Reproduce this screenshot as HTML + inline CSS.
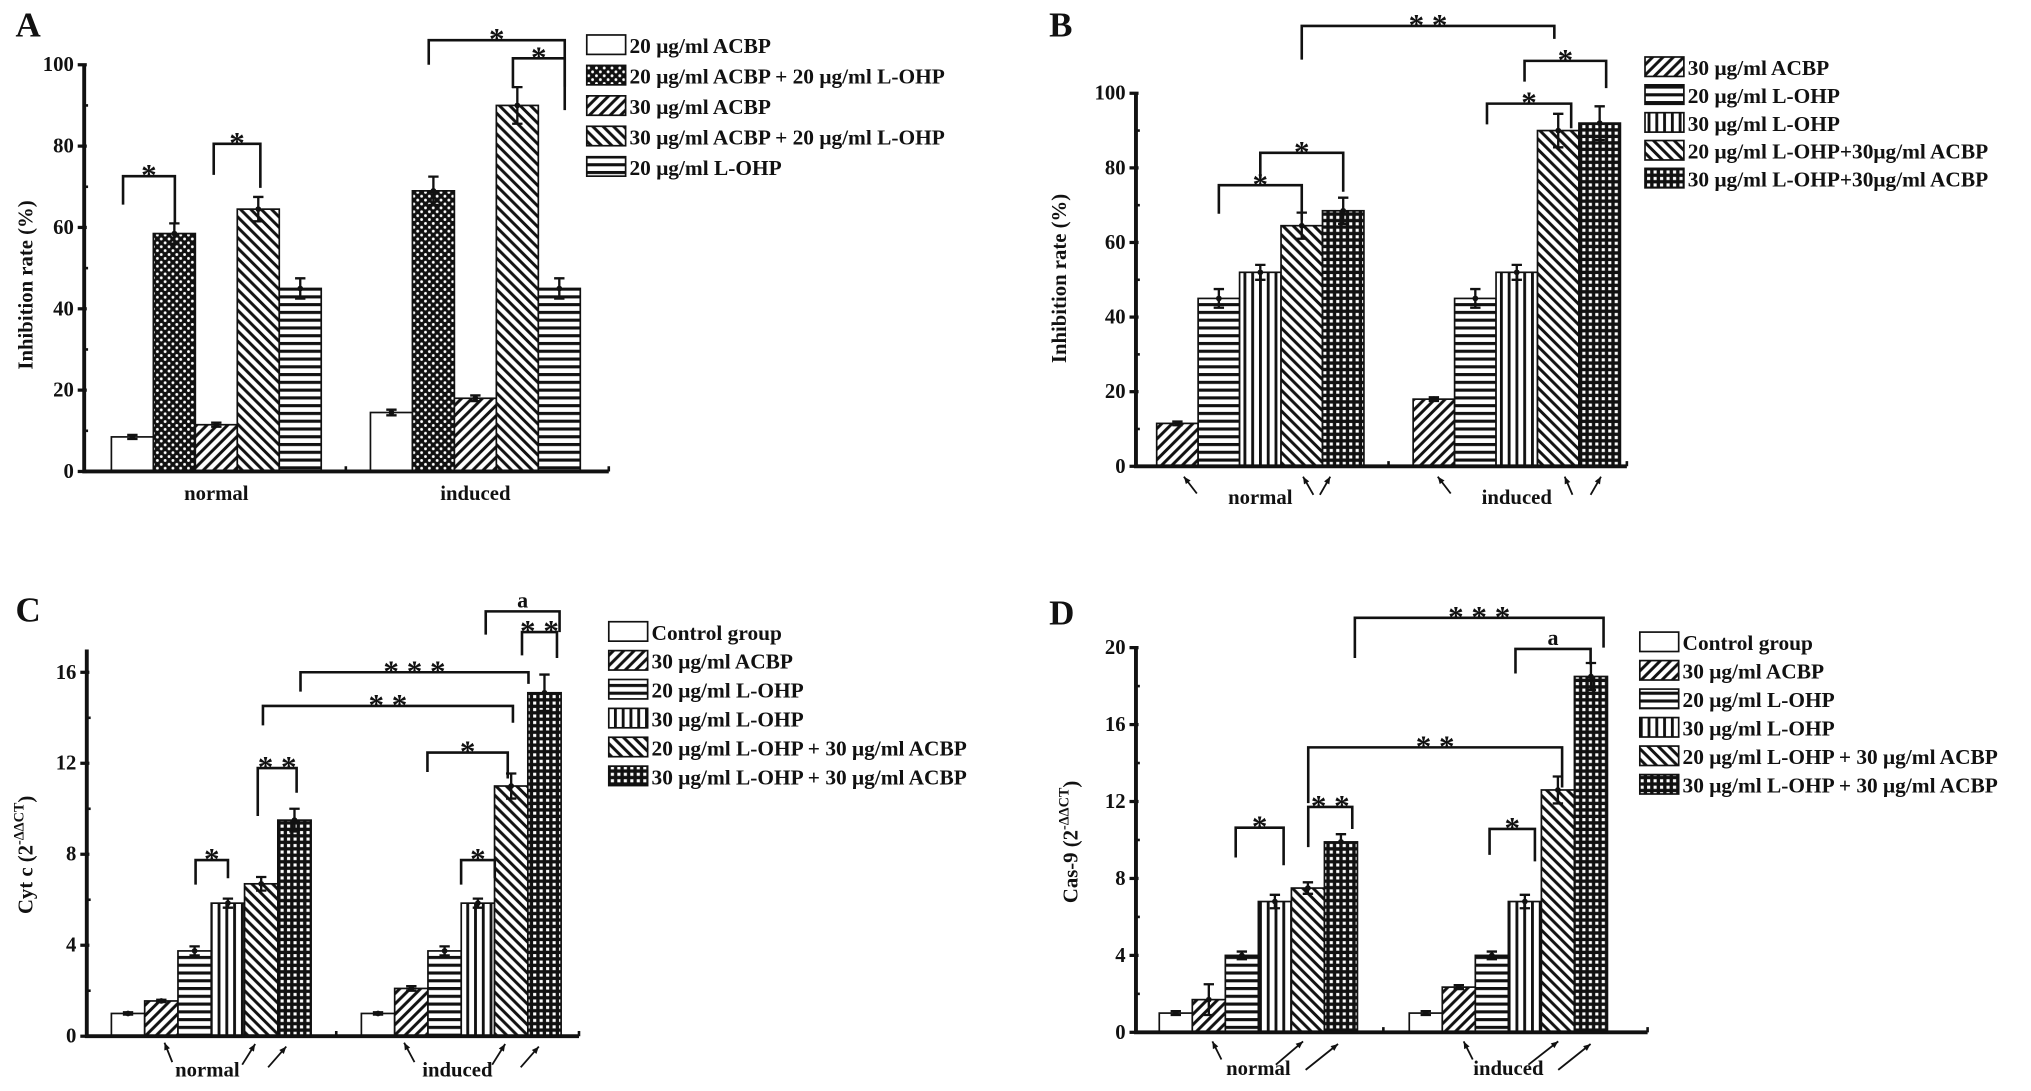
<!DOCTYPE html>
<html><head><meta charset="utf-8"><style>
html,body{margin:0;padding:0;background:#fff;}
svg{display:block;}
text{font-family:"Liberation Serif",serif;font-weight:bold;fill:#111;}
</style></head><body>
<svg id="fig" width="2031" height="1091" viewBox="0 0 1568 842.3" preserveAspectRatio="none" xmlns="http://www.w3.org/2000/svg">
<defs>
<pattern id="p-white" patternUnits="userSpaceOnUse" width="6" height="6"><rect width="6" height="6" fill="#fff"/></pattern>
<pattern id="p-fwd" patternUnits="userSpaceOnUse" width="8" height="8"><rect width="8" height="8" fill="#fff"/><path d="M-2,10 L10,-2 M-2,2 L2,-2 M6,10 L10,6" stroke="#111" stroke-width="2.3"/></pattern>
<pattern id="p-back" patternUnits="userSpaceOnUse" width="8" height="8"><rect width="8" height="8" fill="#fff"/><path d="M-2,-2 L10,10 M6,-2 L10,2 M-2,6 L2,10" stroke="#111" stroke-width="2.3"/></pattern>
<pattern id="p-horiz" patternUnits="userSpaceOnUse" width="6" height="6"><rect width="6" height="6" fill="#fff"/><rect y="0" width="6" height="2.4" fill="#111"/></pattern>
<pattern id="p-vert" patternUnits="userSpaceOnUse" width="6" height="6"><rect width="6" height="6" fill="#fff"/><rect x="0" width="2.2" height="6" fill="#111"/></pattern>
<pattern id="p-grid" patternUnits="userSpaceOnUse" width="5" height="5"><rect width="5" height="5" fill="#111"/><rect x="1.6" y="1.6" width="2.4" height="2.4" fill="#fff"/></pattern>
<pattern id="p-dots" patternUnits="userSpaceOnUse" width="6" height="6"><rect width="6" height="6" fill="#111"/><circle cx="1.5" cy="1.5" r="1.1" fill="#fff"/><circle cx="4.5" cy="4.5" r="1.1" fill="#fff"/></pattern>
</defs>
</svg>
<script>
// ---- Panel A data ----
const catsA = ["normal","induced"];
const seriesA = ["20 μg/ml ACBP","20 μg/ml ACBP + 20 μg/ml L-OHP","30 μg/ml ACBP","30 μg/ml ACBP + 20 μg/ml L-OHP","20 μg/ml L-OHP"];
const normalA = [8.5,58.5,11.5,64.5,45];
const inducedA = [14.5,69,18,90,45];
const errNormalA = [0.5,2.5,0.5,3,2.5];
const errInducedA = [0.7,3.5,0.7,4.5,2.5];
const ticksA = [0,20,40,60,80,100];
// ---- Panel B data ----
const catsB = ["normal","induced"];
const seriesB = ["30 μg/ml ACBP","20 μg/ml L-OHP","30 μg/ml L-OHP","20 μg/ml L-OHP+30μg/ml ACBP","30 μg/ml L-OHP+30μg/ml ACBP"];
const normalB = [11.5,45,52,64.5,68.5];
const inducedB = [18,45,52,90,92];
const errNormalB = [0.5,2.5,2,3.5,3.5];
const errInducedB = [0.5,2.5,2,4.5,4.5];
const ticksB = [0,20,40,60,80,100];
// ---- Panel C data ----
const catsC = ["normal","induced"];
const seriesC = ["Control group","30 μg/ml ACBP","20 μg/ml L-OHP","30 μg/ml L-OHP","20 μg/ml L-OHP + 30 μg/ml ACBP","30 μg/ml L-OHP + 30 μg/ml ACBP"];
const normalC = [1.0,1.55,3.75,5.85,6.7,9.5];
const inducedC = [1.0,2.1,3.75,5.85,11.0,15.1];
const errNormalC = [0.05,0.05,0.2,0.2,0.3,0.5];
const errInducedC = [0.05,0.1,0.2,0.2,0.55,0.8];
const ticksC = [0,4,8,12,16];
// ---- Panel D data ----
const catsD = ["normal","induced"];
const seriesD = ["Control group","30 μg/ml ACBP","20 μg/ml L-OHP","30 μg/ml L-OHP","20 μg/ml L-OHP + 30 μg/ml ACBP","30 μg/ml L-OHP + 30 μg/ml ACBP"];
const normalD = [1.0,1.7,4.0,6.8,7.5,9.9];
const inducedD = [1.0,2.35,4.0,6.8,12.6,18.5];
const errNormalD = [0.1,0.8,0.2,0.35,0.3,0.4];
const errInducedD = [0.1,0.1,0.2,0.35,0.7,0.7];
const ticksD = [0,4,8,12,16,20];

const NS="http://www.w3.org/2000/svg";
const svg=document.getElementById('fig');
function mk(tag,attrs,parent){const e=document.createElementNS(NS,tag);for(const k in attrs)e.setAttribute(k,attrs[k]);(parent||svg).appendChild(e);return e;}

function panel(cfg){
  const g=mk('g',{});
  
  
  const y=v=>cfg.y0-v*cfg.ppu;
  const lab=mk('text',{x:cfg.letterX,y:cfg.letterY,'font-size':27},g);lab.textContent=cfg.id;
  
  
  cfg.groups.forEach((vals,gi)=>{
    vals.forEach((v,i)=>{
      const x=cfg.starts[gi]+i*cfg.bw;
      const r=mk('rect',{x:x,y:y(v),width:cfg.bw,height:v*cfg.ppu,fill:'url(#'+cfg.pats[i]+')',stroke:'#111','stroke-width':1.3},g);
      
      
      const cx=x+cfg.bw/2,e=cfg.errs[gi][i];
      const eb=mk('path',{d:`M${cx},${y(v-e)}L${cx},${y(v+e)}M${cx-4},${y(v+e)}L${cx+4},${y(v+e)}M${cx-4},${y(v-e)}L${cx+4},${y(v-e)}`,stroke:'#111','stroke-width':1.8,fill:'none'},g);
      
      
      mk('circle',{cx:cx,cy:y(v),r:2.2,fill:'#111'},g);
    });
  });
  const ax=mk('path',{d:`M${cfg.axisX},${y(cfg.yMax)}L${cfg.axisX},${cfg.y0}L${cfg.axisEnd},${cfg.y0}`,stroke:'#111','stroke-width':3,fill:'none'},g);
  
  
  const midX=(cfg.starts[0]+cfg.groups[0].length*cfg.bw+cfg.starts[1])/2;
  mk('path',{d:`M${midX},${cfg.y0}L${midX},${cfg.y0-4}M${cfg.axisEnd},${cfg.y0}L${cfg.axisEnd},${cfg.y0-4}`,stroke:'#111','stroke-width':2},g);
  cfg.ticks.forEach((t,i)=>{
    mk('line',{x1:cfg.axisX-5,x2:cfg.axisX+2,y1:y(t),y2:y(t),stroke:'#111','stroke-width':2.5},g);
    if(i<cfg.ticks.length-1){const m=(t+cfg.ticks[i+1])/2;mk('line',{x1:cfg.axisX,x2:cfg.axisX+3,y1:y(m),y2:y(m),stroke:'#111','stroke-width':2},g);}
    const tl=mk('text',{x:cfg.axisX-8,y:y(t)+5,'font-size':16,'text-anchor':'end'},g);tl.textContent=t;
    
    
  });
  const yt=mk('text',{x:0,y:0,'font-size':16,'text-anchor':'middle',transform:`translate(${cfg.ytX},${cfg.ytY}) rotate(-90)`},g);
  
  
  if(cfg.ytSup){yt.textContent=cfg.ytitle+' (2';const s=mk('tspan',{dy:-7,'font-size':11},yt);s.textContent='-ΔΔCT';const s2=mk('tspan',{dy:7},yt);s2.textContent=')';}
  else yt.textContent=cfg.ytitle;
  cfg.cats.forEach((c,gi)=>{
    const cx=cfg.starts[gi]+cfg.groups[gi].length*cfg.bw/2+cfg.catShift;
    const t=mk('text',{x:cx,y:cfg.catY,'font-size':16,'text-anchor':'middle'},g);t.textContent=c;
    
    
  });
  cfg.arrows.forEach(a=>{
    const ar=mk('path',{d:`M${a[0]},${a[1]}L${a[2]},${a[3]}`,stroke:'#111','stroke-width':1.4,fill:'none'},g);
    const ang=Math.atan2(a[3]-a[1],a[2]-a[0]);
    const hx=a[2],hy=a[3],L=6;
    mk('path',{d:`M${hx},${hy}L${hx-L*Math.cos(ang-0.4)},${hy-L*Math.sin(ang-0.4)}L${hx-L*Math.cos(ang+0.4)},${hy-L*Math.sin(ang+0.4)}Z`,fill:'#111'},g);
    
    
  });
  cfg.brackets.forEach(b=>{
    const br=mk('path',{d:`M${b[0]},${b[3]}L${b[0]},${b[2]}L${b[1]},${b[2]}L${b[1]},${b[4]}`,stroke:'#111','stroke-width':2,fill:'none'},g);
    
    
    const t=mk('text',{x:(b[0]+b[1])/2,y:b[2]+(b[5]==='a'?-3:7),'font-size':b[5]==='a'?17:24,'text-anchor':'middle'},g);t.textContent=b[5];
    
    
  });
  cfg.series.forEach((s,i)=>{
    const ly=cfg.legY+i*cfg.legDy;
    const r=mk('rect',{x:cfg.legX,y:ly,width:30,height:15,fill:'url(#'+cfg.pats[i]+')',stroke:'#111','stroke-width':1.3},g);
    
    
    const t=mk('text',{x:cfg.legX+33,y:ly+14,'font-size':16.5},g);t.textContent=s;
    
    
  });
}

panel({id:'A',letterX:12,letterY:28,axisX:65,y0:364,ppu:3.14,bw:32.4,starts:[86,286],axisEnd:470,yMax:100,
  groups:[normalA,inducedA],errs:[errNormalA,errInducedA],cats:catsA,series:seriesA,ticks:ticksA,
  pats:['p-white','p-dots','p-fwd','p-back','p-horiz'],ytitle:'Inhibition rate (%)',ytX:25,ytY:220,catY:386,catShift:0,
  legX:453,legY:27,legDy:23.5,arrows:[],
  brackets:[[95,135,136,158,172,'*'],[165,201,111,135,145,'*'],[331,436,31,50,67,'*'],[396,436,45,68,85,'*']]});
panel({id:'B',letterX:810,letterY:28,axisX:877,y0:360,ppu:2.88,bw:32,starts:[893,1091],axisEnd:1256,yMax:100,
  groups:[normalB,inducedB],errs:[errNormalB,errInducedB],cats:catsB,series:seriesB,ticks:ticksB,
  pats:['p-fwd','p-horiz','p-vert','p-back','p-grid'],ytitle:'Inhibition rate (%)',ytX:823,ytY:215,catY:389,catShift:0,
  legX:1270,legY:44,legDy:21.5,
  arrows:[[924,381,914,368],[1014,382,1006,368],[1019,382,1027,368],[1120,381,1110,368],[1214,382,1208,368],[1228,382,1236,368]],
  brackets:[[1005,1200,20,46,30,'* *'],[1177,1240,47,63,68,'*'],[1148,1213,80,96,99,'*'],[941,1005,143,165,170,'*'],[973,1037,118,138,148,'*']]});
panel({id:'C',letterX:12,letterY:480,axisX:67,y0:800,ppu:17.56,bw:25.7,starts:[86,279],axisEnd:447,yMax:17,
  groups:[normalC,inducedC],errs:[errNormalC,errInducedC],cats:catsC,series:seriesC,ticks:ticksC,
  pats:['p-white','p-fwd','p-horiz','p-vert','p-back','p-grid'],ytitle:'Cyt c',ytSup:true,ytX:25,ytY:660,catY:831,catShift:-3,
  legX:470,legY:480,legDy:22.3,
  arrows:[[133,820,127,805],[187,822,197,806],[207,824,221,808],[320,820,312,805],[380,822,390,806],[402,824,416,808]],
  brackets:[[375,432,472,490,488,'a'],[403,430,488,506,508,'* *'],[232,408,519,534,528,'* * *'],[203,396,545,560,558,'* *'],[330,392,581,596,601,'*'],[356,382,664,683,678,'*'],[151,176,664,683,678,'*'],[199,229,593,630,612,'* *']]});
panel({id:'D',letterX:810,letterY:482,axisX:877,y0:797,ppu:14.85,bw:25.5,starts:[895,1088],axisEnd:1272,yMax:20,
  groups:[normalD,inducedD],errs:[errNormalD,errInducedD],cats:catsD,series:seriesD,ticks:ticksD,
  pats:['p-white','p-fwd','p-horiz','p-vert','p-back','p-grid'],ytitle:'Cas-9',ytSup:true,ytX:832,ytY:650,catY:830,catShift:0,
  legX:1266,legY:488,legDy:22,
  arrows:[[943,818,936,804],[985,822,1006,804],[1008,826,1033,806],[1137,818,1130,804],[1180,822,1203,804],[1203,826,1228,806]],
  brackets:[[1046,1238,477,508,500,'* * *'],[1170,1228,501,520,513,'a'],[1010,1206,577,620,608,'* *'],[1010,1044,623,654,640,'* *'],[954,991,639,662,668,'*'],[1150,1185,640,660,665,'*']]});
</script>
</body></html>
